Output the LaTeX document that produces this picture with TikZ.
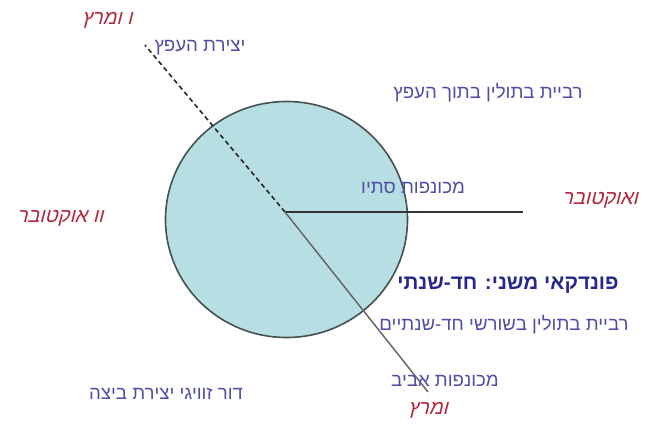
\documentclass[tikz,border=0pt]{standalone}
\usepackage{fontspec}
\newfontfamily\heb[Script=Hebrew]{Liberation Sans}
\newfontfamily\hebslant[Script=Hebrew,FakeSlant=0.25]{Liberation Sans}
\TeXXeTstate=1
\definecolor{txtblue}{RGB}{78,78,165}
\definecolor{boldblue}{RGB}{40,40,140}
\definecolor{circfill}{RGB}{183,222,226}
\definecolor{circline}{RGB}{70,80,80}
\definecolor{redhand}{RGB}{178,40,60}
\tikzset{
  lbl/.style={font=\heb\fontsize{14}{16}\selectfont, text=txtblue, inner sep=0pt},
  lblbold/.style={font=\heb\bfseries\fontsize{15.5}{18}\selectfont, text=boldblue, inner sep=0pt},
  redlbl/.style={font=\hebslant\fontsize{15}{17}\selectfont, text=redhand, inner sep=0pt},
  spoke/.style={line width=1.1pt, draw=black!80},
  spokegray/.style={line width=1.1pt, draw=black!60},
  spokedash/.style={line width=1.2pt, draw=black!85, dash pattern=on 3.5pt off 2.5pt}
}
\begin{document}
\begin{tikzpicture}[x=0.75pt,y=-0.75pt]
\useasboundingbox (0,0) rectangle (646,428);
% circle
\filldraw[fill=circfill, draw=circline, line width=1.2pt] (286.5,219.5) ellipse [x radius=90.75pt, y radius=88.5pt];
% spokes
\coordinate (c) at (285,212);
\coordinate (dend) at (145,45);
\coordinate (hend) at (523,212);
\coordinate (send) at (428,392);
\draw[spokedash] (c) -- (dend);
\draw[spoke] (c) -- (hend);
\draw[spokegray] (c) -- (send);
% labels
\node[lbl] (gall) at (200,48) {\beginR יצירת העפץ\endR};
\node[lbl] (parth) at (488,93) {\beginR רביית בתולין בתוך העפץ\endR};
\node[lbl] (autumn) at (413,188) {\beginR מכונפות סתיו\endR};
\node[lblbold] (host) at (508,285) {\beginR פונדקאי משני: חד-שנתי\endR};
\node[lbl] (roots) at (504,325) {\beginR רביית בתולין בשורשי חד-שנתיים\endR};
\node[lbl] (sexual) at (166,394) {\beginR דור זוויגי יצירת ביצה\endR};
\node[lbl] (spring) at (445,381) {\beginR מכונפות אביב\endR};
% red handwritten labels
\node[redlbl] (rtop) at (107,20) {\beginR ו ומרץ\endR};
\node[redlbl] (rright) at (600,200) {\beginR ואוקטובר\endR};
\node[redlbl] (rleft) at (60,218) {\beginR וו אוקטובר\endR};
\node[redlbl] (rbottom) at (428,410) {\beginR ומרץ\endR};
\end{tikzpicture}
\end{document}
